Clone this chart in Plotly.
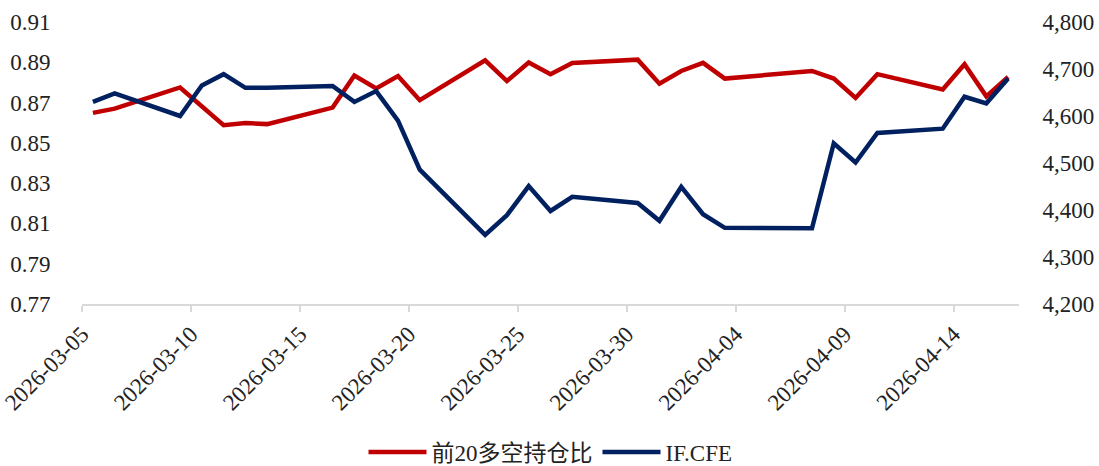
import pandas as pd
import plotly.graph_objects as go

dates = ["2026-03-05", "2026-03-06", "2026-03-09", "2026-03-10", "2026-03-11", "2026-03-12",
         "2026-03-13", "2026-03-16", "2026-03-17", "2026-03-18", "2026-03-19", "2026-03-20",
         "2026-03-23", "2026-03-24", "2026-03-25", "2026-03-26", "2026-03-27", "2026-03-30",
         "2026-03-31", "2026-04-01", "2026-04-02", "2026-04-03", "2026-04-07", "2026-04-08",
         "2026-04-09", "2026-04-10", "2026-04-13", "2026-04-14", "2026-04-15", "2026-04-16"]

ratio = [0.8649, 0.8670, 0.8775, 0.8682, 0.8588, 0.8599,
         0.8593, 0.8675, 0.8834, 0.8770, 0.8832, 0.8712,
         0.8910, 0.8807, 0.8899, 0.8841, 0.8897, 0.8913,
         0.8794, 0.8857, 0.8897, 0.8819, 0.8857, 0.8819,
         0.8723, 0.8841, 0.8765, 0.8890, 0.8731, 0.8827]

if_cfe = [4630, 4648, 4600, 4665, 4689, 4660,
          4660, 4664, 4630, 4653, 4590, 4486,
          4347, 4389, 4451, 4398, 4428, 4415,
          4377, 4449, 4391, 4362, 4361, 4542,
          4501, 4564, 4573, 4641, 4627, 4680]

tick_dates = ["2026-03-05", "2026-03-10", "2026-03-15", "2026-03-20", "2026-03-25",
              "2026-03-30", "2026-04-04", "2026-04-09", "2026-04-14"]

series_names = ["前20多空持仓比", "IF.CFE"]

x = pd.to_datetime(dates)
half = pd.Timedelta(hours=12)
tickvals = pd.to_datetime(tick_dates) - half

font_family = "'Liberation Serif', 'Times New Roman', 'Noto Sans CJK SC', serif"
FS = 23

fig = go.Figure()
fig.add_trace(go.Scatter(x=x, y=ratio, name=series_names[0], mode="lines",
                         line=dict(color="#C00000", width=4.5), yaxis="y"))
fig.add_trace(go.Scatter(x=x, y=if_cfe, name=series_names[1], mode="lines",
                         line=dict(color="#002060", width=4.5), yaxis="y2"))

fig.update_layout(
    width=1099, height=466,
    margin=dict(l=82, r=80, t=22, b=162, autoexpand=False),
    paper_bgcolor="white", plot_bgcolor="white",
    font=dict(family=font_family, size=FS, color="#222222"),
    showlegend=True,
    legend=dict(orientation="h", x=0.5, xanchor="center", yref="container",
                y=0.03, yanchor="middle", font=dict(size=FS),
                itemwidth=58, tracegroupgap=0),
    xaxis=dict(
        type="date", automargin=False,
        range=[pd.Timestamp("2026-03-05") - half, pd.Timestamp("2026-04-17") - half],
        tickmode="array", tickvals=tickvals, ticktext=tick_dates,
        tickangle=-45, showgrid=False, zeroline=False,
        showline=True, linecolor="#d9d9d9", linewidth=1.5,
        ticks="outside", ticklen=6, tickcolor="#d9d9d9", tickwidth=1.5,
        tickfont=dict(size=FS),
    ),
    yaxis=dict(
        range=[0.77, 0.91], tickmode="array", automargin=False,
        tickvals=[0.77, 0.79, 0.81, 0.83, 0.85, 0.87, 0.89, 0.91],
        tickformat=".2f", showgrid=False, zeroline=False, showline=False,
        ticks="outside", ticklen=26, tickcolor="rgba(0,0,0,0)",
        tickfont=dict(size=FS),
    ),
    yaxis2=dict(
        range=[4200, 4800], overlaying="y", side="right", automargin=False,
        tickmode="array", tickvals=[4200, 4300, 4400, 4500, 4600, 4700, 4800],
        tickformat=",", showgrid=False, zeroline=False, showline=False,
        ticks="outside", ticklen=18, tickcolor="rgba(0,0,0,0)",
        tickfont=dict(size=FS),
    ),
)

fig.write_html("out.html",
               config={"displayModeBar": False},
               post_script="document.body.style.margin='0';document.body.style.overflow='hidden';")
